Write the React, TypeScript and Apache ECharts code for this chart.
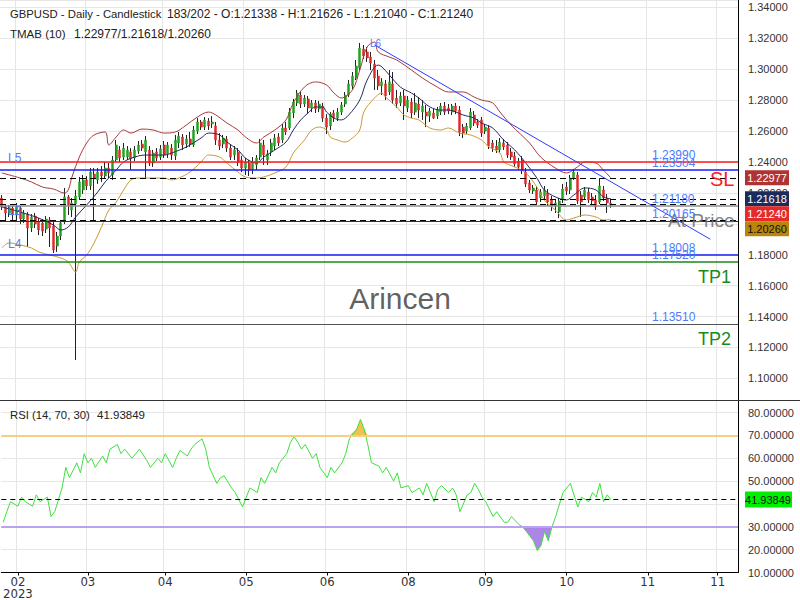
import React, { useEffect, useRef } from 'react';
import * as echarts from 'echarts';

// ---------- DATA ----------
const SLOT_COUNT = 200;
const categories = Array.from({ length: SLOT_COUNT }, (_, i) => String(i));
const tickIndex = [4, 23, 44, 66, 88, 110, 131, 153, 175, 194];
const tickLabels = ['02\n2023', '03', '04', '05', '06', '08', '09', '10', '11', '11'];

// [open, close, low, high]
const candles: number[][] = [
  [1.2167, 1.2109, 1.2089, 1.2186], [1.2109, 1.2070, 1.2012, 1.2122], [1.2070, 1.2102, 1.2044, 1.2122],
  [1.2102, 1.2057, 1.2025, 1.2115], [1.2057, 1.2109, 1.2012, 1.2135], [1.2102, 1.2031, 1.1999, 1.2115],
  [1.2031, 1.2070, 1.2005, 1.2089], [1.2063, 1.1973, 1.1850, 1.2076], [1.1973, 1.2044, 1.1947, 1.2063],
  [1.2050, 1.1999, 1.1973, 1.2070], [1.2012, 1.1960, 1.1927, 1.2037], [1.2005, 1.1953, 1.1921, 1.2031],
  [1.1966, 1.2031, 1.1940, 1.2050], [1.2025, 1.1973, 1.1850, 1.2044], [1.1986, 1.1831, 1.1811, 1.2012],
  [1.1856, 1.1921, 1.1818, 1.1947], [1.1921, 1.2005, 1.1895, 1.2025], [1.2012, 1.2174, 1.1999, 1.2232],
  [1.2174, 1.2122, 1.2057, 1.2186], [1.2089, 1.2135, 1.2044, 1.2167], [1.2128, 1.2180, 1.1119, 1.2219],
  [1.2174, 1.2271, 1.2154, 1.2303], [1.2219, 1.2284, 1.2193, 1.2316], [1.2284, 1.2245, 1.2219, 1.2309],
  [1.2245, 1.2335, 1.2219, 1.2361], [1.2322, 1.2290, 1.2025, 1.2361], [1.2284, 1.2335, 1.2258, 1.2361],
  [1.2335, 1.2309, 1.2271, 1.2374], [1.2309, 1.2361, 1.2296, 1.2400], [1.2361, 1.2329, 1.2296, 1.2393],
  [1.2316, 1.2413, 1.2284, 1.2439], [1.2413, 1.2510, 1.2400, 1.2542], [1.2478, 1.2426, 1.2400, 1.2503],
  [1.2432, 1.2490, 1.2413, 1.2523], [1.2432, 1.2478, 1.2413, 1.2503], [1.2465, 1.2419, 1.2348, 1.2490],
  [1.2426, 1.2478, 1.2406, 1.2503], [1.2471, 1.2510, 1.2452, 1.2536], [1.2516, 1.2490, 1.2471, 1.2542],
  [1.2465, 1.2542, 1.2296, 1.2568], [1.2478, 1.2393, 1.2374, 1.2503], [1.2393, 1.2458, 1.2368, 1.2478],
  [1.2465, 1.2426, 1.2406, 1.2490], [1.2432, 1.2484, 1.2413, 1.2510], [1.2510, 1.2445, 1.2426, 1.2536],
  [1.2452, 1.2510, 1.2426, 1.2529], [1.2490, 1.2445, 1.2413, 1.2516], [1.2439, 1.2542, 1.2413, 1.2575],
  [1.2523, 1.2568, 1.2490, 1.2594], [1.2562, 1.2510, 1.2478, 1.2581], [1.2516, 1.2549, 1.2490, 1.2575],
  [1.2549, 1.2516, 1.2497, 1.2594], [1.2510, 1.2607, 1.2497, 1.2633], [1.2600, 1.2659, 1.2581, 1.2684],
  [1.2659, 1.2626, 1.2607, 1.2672], [1.2626, 1.2672, 1.2607, 1.2691], [1.2665, 1.2633, 1.2607, 1.2684],
  [1.2646, 1.2659, 1.2620, 1.2697], [1.2633, 1.2542, 1.2510, 1.2659], [1.2542, 1.2503, 1.2478, 1.2587],
  [1.2516, 1.2555, 1.2490, 1.2575], [1.2549, 1.2490, 1.2465, 1.2568], [1.2490, 1.2432, 1.2413, 1.2516],
  [1.2445, 1.2478, 1.2413, 1.2503], [1.2465, 1.2400, 1.2374, 1.2490], [1.2413, 1.2361, 1.2335, 1.2439],
  [1.2361, 1.2400, 1.2316, 1.2426], [1.2393, 1.2348, 1.2309, 1.2413], [1.2348, 1.2400, 1.2322, 1.2432],
  [1.2381, 1.2426, 1.2348, 1.2445], [1.2432, 1.2523, 1.2413, 1.2549], [1.2510, 1.2445, 1.2381, 1.2542],
  [1.2413, 1.2452, 1.2381, 1.2478], [1.2465, 1.2523, 1.2439, 1.2549], [1.2503, 1.2555, 1.2478, 1.2581],
  [1.2562, 1.2523, 1.2503, 1.2587], [1.2542, 1.2620, 1.2523, 1.2646], [1.2620, 1.2594, 1.2575, 1.2659],
  [1.2620, 1.2723, 1.2607, 1.2749], [1.2717, 1.2788, 1.2684, 1.2808], [1.2782, 1.2846, 1.2762, 1.2866],
  [1.2833, 1.2775, 1.2749, 1.2853], [1.2775, 1.2814, 1.2756, 1.2833], [1.2808, 1.2749, 1.2710, 1.2827],
  [1.2749, 1.2782, 1.2723, 1.2801], [1.2782, 1.2743, 1.2717, 1.2801], [1.2743, 1.2775, 1.2723, 1.2795],
  [1.2762, 1.2684, 1.2659, 1.2782], [1.2684, 1.2626, 1.2581, 1.2710], [1.2633, 1.2710, 1.2607, 1.2723],
  [1.2717, 1.2684, 1.2659, 1.2736], [1.2684, 1.2723, 1.2665, 1.2749], [1.2723, 1.2769, 1.2704, 1.2788],
  [1.2775, 1.2833, 1.2756, 1.2853], [1.2833, 1.2905, 1.2820, 1.2930], [1.2892, 1.2956, 1.2872, 1.2982],
  [1.2943, 1.3021, 1.2930, 1.3060], [1.3008, 1.3137, 1.2995, 1.3170], [1.3131, 1.3086, 1.3066, 1.3157],
  [1.3112, 1.3073, 1.3047, 1.3144], [1.3079, 1.3040, 1.2995, 1.3112], [1.3034, 1.2943, 1.2866, 1.3060],
  [1.2956, 1.2892, 1.2866, 1.2995], [1.2892, 1.2918, 1.2833, 1.2943], [1.2905, 1.2827, 1.2801, 1.2930],
  [1.2853, 1.2918, 1.2833, 1.2995], [1.2905, 1.2801, 1.2775, 1.2982], [1.2814, 1.2775, 1.2749, 1.2866],
  [1.2782, 1.2827, 1.2762, 1.2853], [1.2827, 1.2762, 1.2672, 1.2866], [1.2749, 1.2801, 1.2723, 1.2827],
  [1.2788, 1.2717, 1.2684, 1.2814], [1.2723, 1.2782, 1.2704, 1.2846], [1.2775, 1.2736, 1.2684, 1.2820],
  [1.2723, 1.2762, 1.2672, 1.2801], [1.2723, 1.2697, 1.2626, 1.2769], [1.2697, 1.2730, 1.2659, 1.2749],
  [1.2717, 1.2684, 1.2678, 1.2743], [1.2697, 1.2736, 1.2678, 1.2756], [1.2723, 1.2762, 1.2704, 1.2782],
  [1.2762, 1.2723, 1.2704, 1.2788], [1.2749, 1.2730, 1.2710, 1.2775], [1.2723, 1.2762, 1.2704, 1.2775],
  [1.2762, 1.2730, 1.2710, 1.2782], [1.2736, 1.2594, 1.2568, 1.2762], [1.2626, 1.2587, 1.2555, 1.2646],
  [1.2600, 1.2633, 1.2581, 1.2652], [1.2620, 1.2723, 1.2607, 1.2749], [1.2704, 1.2652, 1.2633, 1.2730],
  [1.2659, 1.2639, 1.2620, 1.2678], [1.2672, 1.2587, 1.2562, 1.2691], [1.2600, 1.2626, 1.2581, 1.2646],
  [1.2620, 1.2503, 1.2484, 1.2639], [1.2523, 1.2490, 1.2465, 1.2542], [1.2503, 1.2478, 1.2458, 1.2542],
  [1.2478, 1.2529, 1.2458, 1.2555], [1.2523, 1.2497, 1.2478, 1.2549], [1.2510, 1.2445, 1.2426, 1.2529],
  [1.2465, 1.2432, 1.2413, 1.2490], [1.2439, 1.2387, 1.2368, 1.2465], [1.2406, 1.2368, 1.2348, 1.2426],
  [1.2413, 1.2348, 1.2322, 1.2439], [1.2335, 1.2258, 1.2238, 1.2361], [1.2264, 1.2219, 1.2199, 1.2284],
  [1.2212, 1.2232, 1.2193, 1.2251], [1.2219, 1.2141, 1.2122, 1.2238], [1.2167, 1.2206, 1.2141, 1.2225],
  [1.2180, 1.2219, 1.2154, 1.2245], [1.2199, 1.2141, 1.2115, 1.2225], [1.2154, 1.2115, 1.2083, 1.2180],
  [1.2115, 1.2135, 1.2070, 1.2161], [1.2076, 1.2148, 1.2037, 1.2167], [1.2161, 1.2225, 1.2135, 1.2258],
  [1.2238, 1.2212, 1.2186, 1.2271], [1.2219, 1.2296, 1.2193, 1.2316], [1.2296, 1.2335, 1.2284, 1.2355],
  [1.2316, 1.2148, 1.2128, 1.2335], [1.2186, 1.2141, 1.2044, 1.2212], [1.2174, 1.2219, 1.2154, 1.2238],
  [1.2206, 1.2154, 1.2135, 1.2232], [1.2174, 1.2148, 1.2122, 1.2199], [1.2154, 1.2109, 1.2089, 1.2186],
  [1.2141, 1.2245, 1.2128, 1.2296], [1.2219, 1.2167, 1.2148, 1.2245], [1.2167, 1.2135, 1.2070, 1.2193],
  [1.21338, 1.2124, 1.2104, 1.21626],
];

// TMA bands: [barIndex, value]
const upperBand = [
  [0, 1.2329], [5, 1.2296], [8, 1.2271], [11, 1.2238], [14, 1.2225], [17, 1.2199], [18, 1.2219], [19, 1.2303],
  [21, 1.2432], [23, 1.2523], [25, 1.2575], [28, 1.2594], [29, 1.2510], [31, 1.2562], [33, 1.2607], [35, 1.2587],
  [38, 1.2613], [41, 1.2607], [44, 1.2587], [47, 1.2594], [50, 1.2639], [53, 1.2691], [56, 1.2723], [58, 1.2704],
  [61, 1.2652], [64, 1.2607], [66, 1.2562], [69, 1.2523], [71, 1.2562], [74, 1.2607], [77, 1.2672], [79, 1.2782],
  [82, 1.2885], [85, 1.2918], [88, 1.2898], [90, 1.2846], [92, 1.2814], [95, 1.2866], [97, 1.2995], [99, 1.3144],
  [101, 1.3176], [102, 1.3112], [105, 1.3079], [107, 1.3060], [111, 1.2995], [114, 1.2943], [118, 1.2885],
  [121, 1.2853], [125, 1.2853], [128, 1.2820], [130, 1.2801], [133, 1.2782], [135, 1.2723], [138, 1.2639],
  [143, 1.2523], [146, 1.2432], [150, 1.2361], [153, 1.2329], [156, 1.2368], [158, 1.2400], [161, 1.2393],
  [163, 1.2348], [165, 1.22977],
];
const midBand = [
  [0, 1.2109], [5, 1.2076], [10, 1.2037], [14, 1.1992], [16, 1.1960], [18, 1.1979], [20, 1.2044], [23, 1.2122],
  [26, 1.2206], [28, 1.2271], [31, 1.2348], [33, 1.2400], [36, 1.2432], [39, 1.2445], [44, 1.2445], [46, 1.2458],
  [50, 1.2497], [54, 1.2555], [56, 1.2587], [59, 1.2575], [61, 1.2529], [64, 1.2478], [66, 1.2426], [69, 1.2393],
  [71, 1.2432], [74, 1.2478], [77, 1.2529], [79, 1.2607], [81, 1.2672], [83, 1.2717], [85, 1.2756], [87, 1.2756],
  [88, 1.2723], [90, 1.2684], [92, 1.2672], [94, 1.2704], [97, 1.2801], [99, 1.2930], [102, 1.3027], [103, 1.3015],
  [105, 1.2963], [108, 1.2885], [111, 1.2846], [113, 1.2814], [116, 1.2756], [119, 1.2736], [121, 1.2736],
  [125, 1.2704], [128, 1.2684], [130, 1.2652], [133, 1.2620], [136, 1.2542], [139, 1.2478], [142, 1.2393],
  [145, 1.2296], [147, 1.2219], [150, 1.2174], [153, 1.2154], [155, 1.2186], [158, 1.2232], [161, 1.2219],
  [163, 1.2174], [165, 1.21618],
];
const lowerBand = [
  [0, 1.1844], [2, 1.1876], [5, 1.1863], [8, 1.1844], [10, 1.1818], [13, 1.1798], [16, 1.1779], [18, 1.1753],
  [20, 1.1688], [21, 1.1753], [23, 1.1798], [25, 1.1876], [27, 1.1979], [29, 1.2089], [31, 1.2141], [33, 1.2219],
  [35, 1.2284], [37, 1.2296], [41, 1.2296], [44, 1.2296], [46, 1.2284], [48, 1.2296], [51, 1.2335], [54, 1.2400],
  [56, 1.2445], [59, 1.2432], [61, 1.2393], [64, 1.2335], [66, 1.2303], [69, 1.2296], [71, 1.2303], [74, 1.2329],
  [77, 1.2368], [79, 1.2458], [82, 1.2542], [84, 1.2607], [86, 1.2626], [88, 1.2607], [89, 1.2562], [91, 1.2542],
  [93, 1.2529], [95, 1.2555], [97, 1.2607], [98, 1.2717], [100, 1.2788], [103, 1.2846], [104, 1.2820],
  [107, 1.2756], [109, 1.2704], [111, 1.2684], [113, 1.2672], [116, 1.2620], [119, 1.2607], [121, 1.2620],
  [124, 1.2587], [127, 1.2575], [130, 1.2542], [132, 1.2497], [135, 1.2458], [136, 1.2400], [139, 1.2368],
  [142, 1.2329], [145, 1.2238], [147, 1.2154], [150, 1.2089], [153, 1.2025], [155, 1.2037], [158, 1.2057],
  [161, 1.2044], [163, 1.2025], [165, 1.2026],
];

// trend line endpoints [barIndex, price]
const trendLine = [[101, 1.3157], [192, 1.1900]];

// RSI (14): [barIndex, value]
const rsiPoints = [
  [0, 32], [1, 36.6], [2, 41], [4, 39], [5, 43], [6, 41], [8, 39], [9, 44], [10, 41], [12, 43], [13, 34.5],
  [14, 36.6], [16, 47], [17, 56], [18, 51.5], [20, 58], [21, 53.6], [22, 62], [23, 58], [24, 60], [25, 56],
  [27, 61], [28, 58], [29, 64], [31, 66], [32, 62], [33, 64], [35, 60], [36, 62], [37, 64], [39, 59], [40, 56],
  [42, 60], [43, 58], [44, 62], [46, 56], [47, 60], [48, 63.4], [50, 61], [51, 64], [52, 66], [54, 68.5],
  [55, 64], [56, 56], [58, 49], [59, 51.5], [60, 52.3], [62, 47], [63, 45], [65, 38.7], [66, 43], [67, 47],
  [69, 45], [70, 51.5], [71, 49], [73, 56], [74, 53.6], [75, 58], [77, 62], [78, 67], [79, 69.5], [80, 67],
  [81, 64], [82, 66], [84, 60], [85, 62], [86, 56], [88, 51.5], [89, 56], [90, 53.6], [92, 58], [93, 62],
  [94, 68.5], [96, 72.8], [97, 77], [98, 72.8], [99, 66], [100, 58], [102, 56.6], [103, 53.6], [104, 56],
  [106, 50], [107, 53.6], [108, 47], [110, 48], [111, 45], [113, 47], [114, 44], [115, 49], [117, 41],
  [118, 46.4], [119, 48], [121, 45], [122, 47], [123, 44], [124, 36.6], [126, 44], [127, 45], [128, 49],
  [129, 46.4], [130, 43], [131, 41], [133, 34.5], [134, 36.6], [136, 32], [137, 32], [138, 34.5], [140, 31],
  [141, 30], [142, 28], [144, 23.8], [145, 19.6], [146, 21.7], [147, 28], [148, 23.8], [149, 30], [150, 34.5],
  [152, 45], [153, 47], [154, 49], [156, 38.7], [157, 43], [159, 41], [160, 45], [161, 43], [162, 49],
  [163, 41], [164, 44], [165, 41.93849],
];
const rsiLevels = [70, 30];
const rsiCurrent = 41.93849;

// horizontal levels
const levelValues = [1.2399, 1.23504, 1.22977, 1.21618, 1.2124, 1.2118, 1.20165, 1.2026, 1.18008, 1.1752, 1.1351];
const levelTexts = [1.2399, 1.23504, 1.2118, 1.20165, 1.18008, 1.1752, 1.1351];
const tmab = [1.22977, 1.21618, 1.2026];
const lastClose = 1.2124;

// ---------- STYLES ----------
const FONT = "'Liberation Sans', Arial, sans-serif";
const NARROW = "'Liberation Sans Narrow', 'DejaVu Sans Condensed', sans-serif";
const levelStyles = [
  { color: '#ff1a1a', type: 'solid', width: 1.5 },
  { color: '#1a1aff', type: 'solid', width: 1.5 },
  { color: '#000', type: [6, 4], width: 1 },
  { color: '#000', type: [6, 4], width: 1 },
  { color: '#000', type: [6, 4], width: 1 },
  { color: '#8c8c8c', type: 'solid', width: 1.5 },
  { color: '#1a1aff', type: 'solid', width: 1.2 },
  { color: '#000', type: [6, 4], width: 1 },
  { color: '#1a1aff', type: 'solid', width: 1.5 },
  { color: '#1a8a1a', type: 'solid', width: 1.5 },
  { color: '#555', type: 'solid', width: 1 },
];

const isTick = (i: number) => tickIndex.indexOf(i) >= 0;
const gridColor = '#e6e6e6';

export default function App() {
  const ref = useRef<HTMLDivElement>(null);
  useEffect(() => {
    const chart = echarts.init(ref.current!, null, { renderer: 'svg' });
    const bodies = candles.map(([o, c]) => [o, c, Math.min(o, c), Math.max(o, c)]);
    const option: any = {
      animation: false,
      backgroundColor: '#fff',
      grid: [
        { left: 0, right: 62, top: 0, height: 400 },
        { left: 0, right: 62, top: 400, height: 177 },
      ],
      xAxis: [
        {
          type: 'category', gridIndex: 0, data: categories, boundaryGap: true,
          axisLine: { show: false }, axisTick: { show: false }, axisLabel: { show: false },
          splitLine: { show: true, interval: (i: number) => isTick(i), lineStyle: { color: gridColor } },
        },
        {
          type: 'category', gridIndex: 1, data: categories, boundaryGap: true,
          axisLine: { show: true, lineStyle: { color: '#000', width: 1 } },
          axisTick: { show: true, interval: (i: number) => isTick(i), length: 3, alignWithLabel: true, lineStyle: { color: '#000' } },
          axisLabel: {
            show: true, interval: (i: number) => isTick(i), margin: 3,
            formatter: (_v: string, i: number) => { const k = tickIndex.indexOf(i); return k >= 0 ? tickLabels[k] : ''; },
            fontSize: 13, lineHeight: 12, color: '#333', fontFamily: NARROW,
          },
          splitLine: { show: true, interval: (i: number) => isTick(i), lineStyle: { color: gridColor } },
        },
      ],
      yAxis: [
        {
          type: 'value', gridIndex: 0, position: 'right', min: 1.086, max: 1.3448, splitNumber: 13, scale: true,
          axisLine: { show: true, lineStyle: { color: '#000' } }, axisTick: { show: false },
          axisLabel: {
            margin: 10, fontSize: 11, color: '#333', fontFamily: FONT,
            formatter: (v: number) => {
              const onTick = Math.abs(v / 0.02 - Math.round(v / 0.02)) < 1e-6;
              return onTick && Math.abs(v - 1.2) > 1e-6 ? v.toFixed(5) : '';
            },
          },
          splitLine: { show: true, lineStyle: { color: gridColor } },
        },
        {
          type: 'value', gridIndex: 1, position: 'right', min: 10, max: 85.5, splitNumber: 8,
          axisLine: { show: true, lineStyle: { color: '#000' } }, axisTick: { show: false },
          axisLabel: {
            margin: 10, fontSize: 11, color: '#333', fontFamily: FONT,
            formatter: (v: number) => (Math.abs(v % 10) < 1e-6 && v !== 40 ? v.toFixed(5) : ''),
          },
          splitLine: { show: true, lineStyle: { color: gridColor } },
        },
      ],
      series: [
        {
          type: 'candlestick', xAxisIndex: 0, yAxisIndex: 0, data: candles, barWidth: 0.1,
          itemStyle: { color: '#222', color0: '#222', borderColor: '#222', borderColor0: '#222', borderWidth: 1 },
          silent: true, z: 2,
        },
        {
          type: 'candlestick', xAxisIndex: 0, yAxisIndex: 0, data: bodies, barWidth: '68%',
          itemStyle: { color: '#22a322', color0: '#e02a2a', borderColor: '#22a322', borderColor0: '#e02a2a', borderWidth: 0.5 },
          silent: true, z: 3,
        },
        {
          type: 'line', xAxisIndex: 0, yAxisIndex: 0, data: [], symbol: 'none', z: 1,
          markLine: {
            silent: true, symbol: ['none', 'none'], label: { show: false }, precision: 6,
            data: levelValues.map((v, k) => ({ yAxis: v, lineStyle: { ...levelStyles[k] } })),
          },
        },
        { type: 'line', xAxisIndex: 0, yAxisIndex: 0, data: upperBand, smooth: 0.35, symbol: 'none', lineStyle: { color: '#a83a3a', width: 1 }, z: 4 },
        { type: 'line', xAxisIndex: 0, yAxisIndex: 0, data: midBand, smooth: 0.35, symbol: 'none', lineStyle: { color: '#262a60', width: 1 }, z: 4 },
        { type: 'line', xAxisIndex: 0, yAxisIndex: 0, data: lowerBand, smooth: 0.35, symbol: 'none', lineStyle: { color: '#c99a35', width: 1 }, z: 4 },
        { type: 'line', xAxisIndex: 0, yAxisIndex: 0, data: trendLine, symbol: 'none', lineStyle: { color: '#2a3cff', width: 1 }, z: 5 },
        {
          type: 'line', xAxisIndex: 1, yAxisIndex: 1, data: rsiPoints.map(([i, v]) => [i, Math.max(v, rsiLevels[0])]),
          symbol: 'none', lineStyle: { width: 0, opacity: 0 }, areaStyle: { color: '#f0c24f', opacity: 1, origin: rsiLevels[0] }, z: 2,
        },
        {
          type: 'line', xAxisIndex: 1, yAxisIndex: 1, data: rsiPoints.map(([i, v]) => [i, Math.min(v, rsiLevels[1])]),
          symbol: 'none', lineStyle: { width: 0, opacity: 0 }, areaStyle: { color: '#ad85e6', opacity: 1, origin: rsiLevels[1] }, z: 2,
        },
        {
          type: 'line', xAxisIndex: 1, yAxisIndex: 1, data: rsiPoints, symbol: 'none',
          lineStyle: { color: '#3fe03f', width: 1 }, z: 4,
          markLine: {
            silent: true, symbol: ['none', 'none'], label: { show: false }, precision: 6,
            data: [
              { yAxis: rsiLevels[0], lineStyle: { color: '#f6d080', width: 2, type: 'solid' } },
              { yAxis: rsiLevels[1], lineStyle: { color: '#b7a3ee', width: 2, type: 'solid' } },
              { yAxis: rsiCurrent, lineStyle: { color: '#000', width: 1, type: [5, 4] } },
            ],
          },
        },
      ],
    };
    chart.setOption(option);

    const py = (v: number) => chart.convertToPixel({ yAxisIndex: 0 }, v) as number;
    const ry = (v: number) => chart.convertToPixel({ yAxisIndex: 1 }, v) as number;
    const txt = (text: string, x: number, y: number, fill: string, size: number, align = 'left', family = FONT, extra: any = {}) => ({
      type: 'text', x, y, z: 100, silent: true,
      style: { text, fill, fontSize: size, fontFamily: family, align, verticalAlign: 'middle', ...extra },
    });
    const g: any[] = [];
    g.push({ type: 'line', z: 90, shape: { x1: 0, y1: 400.5, x2: 800, y2: 400.5 }, style: { stroke: '#333', lineWidth: 1 } });
    const last = candles[candles.length - 1];
    // header
    g.push(txt('GBPUSD - Daily - Candlestick', 10, 14, '#222', 11.3));
    g.push(txt(`183/202 - O:${last[0].toFixed(5)} - H:${last[3].toFixed(5)} - L:${last[2].toFixed(5)} - C:${last[1].toFixed(5)}`, 167, 14, '#222', 12));
    g.push(txt('TMAB (10)', 10, 34, '#222', 11.5));
    g.push(txt(tmab.map((v) => v.toFixed(5)).join('/'), 74, 34, '#222', 12));
    g.push(txt('RSI (14, 70, 30)', 10, 415, '#222', 11.3));
    g.push(txt(rsiCurrent.toFixed(5), 97, 415, '#222', 11.5));
    // watermark + annotation texts
    g.push(txt('Arincen', 400, 298, 'rgba(70,70,70,0.85)', 30, 'center'));
    g.push(txt('At Price', 668, py(1.2026) + 1, 'rgba(110,110,110,0.85)', 19));
    g.push(txt('SL', 710, py(tmab[0]) + 1, '#ff2020', 20));
    g.push(txt('TP1', 698, py(1.1752) + 15, '#1a8a1a', 18));
    g.push(txt('TP2', 698, py(1.1351) + 15, '#1a8a1a', 18));
    g.push(txt('L5', 8, py(1.2399) - 4, '#5577ff', 12));
    g.push(txt('L3', 8, py(1.2118) + 5, '#5577ff', 12));
    g.push(txt('L4', 8, py(1.18008) - 11, '#5577ff', 12));
    g.push(txt('L6', 370, 43, '#5577ff', 10));
    levelTexts.forEach((v) => g.push(txt(v.toFixed(5), 652, py(v) - 7, '#4d7cff', 12)));
    // price boxes on the axis
    const boxVals = [tmab[0], tmab[1], lastClose, tmab[2]];
    const boxFill = ['#b03333', '#1c2a5c', '#e32b2b', '#b8860b'];
    const boxText = ['#fff', '#fff', '#fff', '#111'];
    let prev = -100;
    boxVals.forEach((v, k) => {
      let yc = py(v);
      if (yc < prev + 15) yc = prev + 15;
      prev = yc;
      g.push({ type: 'rect', z: 99, silent: true, shape: { x: 745, y: yc - 7.5, width: 44, height: 15 }, style: { fill: boxFill[k] } });
      g.push(txt(v.toFixed(5), 767, yc, boxText[k], 11, 'center'));
    });
    const yr = ry(rsiCurrent);
    g.push({ type: 'rect', z: 99, silent: true, shape: { x: 745, y: yr - 8, width: 47, height: 16 }, style: { fill: '#00ee00' } });
    g.push(txt(rsiCurrent.toFixed(5), 768, yr, '#111', 11, 'center'));

    chart.setOption({ graphic: g });
    return () => chart.dispose();
  }, []);
  return <div ref={ref} style={{ position: 'fixed', left: 0, top: 0, width: 800, height: 600, background: '#fff' }} />;
}
